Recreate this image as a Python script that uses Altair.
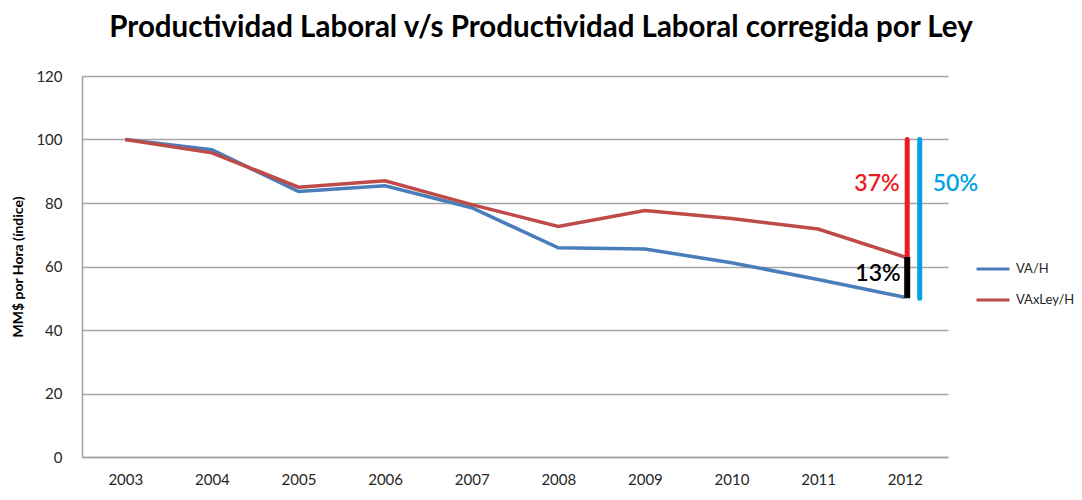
import altair as alt
import pandas as pd

years = ["2003", "2004", "2005", "2006", "2007", "2008", "2009", "2010", "2011", "2012"]
va_h = [100, 96.8, 83.6, 85.4, 78.5, 65.9, 65.5, 61.2, 55.9, 50.3]
vaxley_h = [100, 95.8, 85.0, 87.0, 79.5, 72.6, 77.6, 75.1, 71.8, 63.0]
series_names = ["VA/H", "VAxLey/H"]
series_colors = ["#4a7ebb", "#be4b48"]

# annotation values (index units)
gap_top = 100
gap_mid = 63
gap_bottom = 50
label_37 = "37%"
label_13 = "13%"
label_50 = "50%"
label_y_upper = 86
label_y_lower = 57.5

rows = []
for y, a, b in zip(years, va_h, vaxley_h):
    rows.append({"year": y, "serie": series_names[0], "value": a})
    rows.append({"year": y, "serie": series_names[1], "value": b})
df = pd.DataFrame(rows)

FONT = "Lato"

x_enc = alt.X("year:O", sort=years, scale=alt.Scale(type="point", padding=0.5),
              axis=alt.Axis(title=None, labelAngle=0, ticks=False, grid=False,
                            labelPadding=15, labelFontSize=15, labelColor="#262626",
                            domainColor="#a0a0a0", domainWidth=1.5, labelFont=FONT))
y_scale = alt.Scale(domain=[0, 120], nice=False)

lines = alt.Chart(df).mark_line(strokeWidth=3.5).encode(
    x=x_enc,
    y=alt.Y("value:Q", scale=y_scale,
            axis=alt.Axis(title="MM$ por Hora (índice)", values=[0, 20, 40, 60, 80, 100, 120],
                          ticks=False, labelPadding=20, labelFontSize=15, labelColor="#262626",
                          gridColor="#a6a6a6", gridWidth=1.5, domainColor="#a0a0a0",
                          domainWidth=1.5, titleFontSize=14, titleFontWeight="bold",
                          titleColor="#000000", titlePadding=10, labelFont=FONT, titleFont=FONT)),
    color=alt.Color("serie:N", scale=alt.Scale(domain=series_names, range=series_colors),
                    legend=alt.Legend(title=None, orient="none", legendX=893, legendY=175,
                                      symbolType="stroke", symbolSize=1089, symbolStrokeWidth=3,
                                      rowPadding=6, labelFontSize=13, labelColor="#262626",
                                      labelFont=FONT, labelOffset=5)),
    detail="serie:N",
)

ann = pd.DataFrame({
    "year": ["2012", "2012", "2012"],
    "y": [gap_top, gap_mid, gap_top],
    "y2": [gap_mid, gap_bottom, gap_bottom],
    "kind": ["red", "black", "blue"],
})

red_rule = alt.Chart(ann[ann.kind == "red"]).mark_rule(
    color="#ed1c24", strokeWidth=5, strokeCap="round", xOffset=2.5
).encode(x=alt.X("year:O", sort=years), y="y:Q", y2="y2:Q")
black_rule = alt.Chart(ann[ann.kind == "black"]).mark_rule(
    color="#000000", strokeWidth=6, strokeCap="butt", xOffset=2.5
).encode(x=alt.X("year:O", sort=years), y="y:Q", y2="y2:Q")
blue_rule = alt.Chart(ann[ann.kind == "blue"]).mark_rule(
    color="#00a2e8", strokeWidth=5, strokeCap="round", xOffset=15
).encode(x=alt.X("year:O", sort=years), y="y:Q", y2="y2:Q")

txt = pd.DataFrame({
    "year": ["2012", "2012", "2012"],
    "y": [label_y_upper, label_y_lower, label_y_upper],
    "label": [label_37, label_13, label_50],
})

t37 = alt.Chart(txt.iloc[[0]]).mark_text(
    align="right", baseline="middle", fontSize=23, fontWeight=600, font=FONT,
    color="#ed1c24", dx=-5
).encode(x=alt.X("year:O", sort=years), y="y:Q", text="label:N")
t13 = alt.Chart(txt.iloc[[1]]).mark_text(
    align="right", baseline="middle", fontSize=23, fontWeight=600, font=FONT,
    color="#000000", dx=-4
).encode(x=alt.X("year:O", sort=years), y="y:Q", text="label:N")
t50 = alt.Chart(txt.iloc[[2]]).mark_text(
    align="left", baseline="middle", fontSize=23, fontWeight=600, font=FONT,
    color="#00a2e8", dx=28
).encode(x=alt.X("year:O", sort=years), y="y:Q", text="label:N")

chart = alt.layer(lines, red_rule, black_rule, blue_rule, t37, t13, t50).properties(
    width=866, height=381,
    title=alt.TitleParams("Productividad Laboral v/s Productividad Laboral corregida por Ley",
                          fontSize=29.5, fontWeight="bold", font=FONT, color="#000000",
                          anchor="middle", dx=26, offset=26),
    autosize=alt.AutoSizeParams(type="none"),
    padding={"left": 74, "top": 68, "right": 126, "bottom": 35},
).configure_view(stroke=None).configure_axisY(gridDash=[])

chart.save("out.html", embed_options={"renderer": "svg", "actions": False})
